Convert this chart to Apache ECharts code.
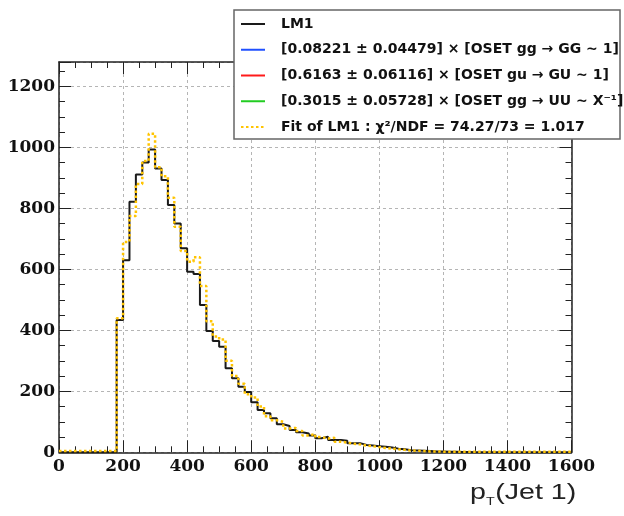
<!DOCTYPE html>
<html>
<head>
<meta charset="utf-8">
<script src="https://cdn.jsdelivr.net/npm/echarts@6/dist/echarts.min.js"></script>
<style>
html,body{margin:0;padding:0;background:#fff;}
#chart{width:624px;height:516px;}
</style>
</head>
<body>
<div id="chart"></div>
<script>
// Histogram binning (lower edge of first bin, bin width)
const binLow = 0;
const binWidth = 20;

// LM1 histogram contents (80 bins, 0..1600)
const lm1 = [
  0,0,0,0,0,0,0,0,0,
  434,630,822,911,950,993,931,893,811,750,
  669,592,585,483,398,365,346,276,243,215,
  198,164,139,128,112,92,86,73,66,62,
  55,46,51,40,40,38,30,30,24,22,
  20,18,16,12,10,7,6,5,4,3,
  3,2,2,1,1,
  0,0,0,0,0,0,0,0,0,0,0,0,0,0,0,0
];

// Fit of LM1 histogram contents (80 bins)
const fitLM1 = [
  4,4,4,4,4,4,4,4,4,
  440,690,775,880,955,1045,935,905,835,740,
  660,625,640,545,430,380,370,300,250,225,
  190,180,150,118,105,100,78,80,70,55,
  60,50,45,48,35,32,28,26,22,20,
  17,14,12,10,8,6,5,4,3,3,
  2,2,2,2,2,
  2,2,2,2,2,2,2,2,2,2,2,2,2,2,2,2
];

// Legend entries
const legendNames = [
  'LM1',
  '[0.08221 \u00b1 0.04479] \u00d7 [OSET gg \u2192 GG ~ 1]',
  '[0.6163 \u00b1 0.06116] \u00d7 [OSET gu \u2192 GU ~ 1]',
  '[0.3015 \u00b1 0.05728] \u00d7 [OSET gg \u2192 UU ~ X\u207b\u00b9]',
  'Fit of LM1 : \u03c7\u00b2/NDF = 74.27/73 = 1.017'
];
const legendColors = ['#1a1a1a', '#2050ff', '#ff1a1a', '#22cc22', '#ffc400'];

// Axis ranges / ticks
const xMin = 0, xMax = 1600, xStep = 200;
const yMin = 0, yMax = 1280, yStep = 200;

function toSteps(values) {
  const pts = values.map((v, i) => [binLow + i * binWidth, v]);
  pts.push([binLow + values.length * binWidth, values[values.length - 1]]);
  return pts;
}

const chart = echarts.init(document.getElementById('chart'), null, {renderer: 'canvas'});

const labelFont = {fontFamily: 'DejaVu Serif', fontWeight: 'bold', fontSize: 17, color: '#111',
                   formatter: v => String(v)};
const axisLineStyle = {color: '#222', width: 1.5};
const gridLine = {show: true, lineStyle: {color: '#b5b5b5', type: [3, 3], width: 1}};

function xAxisCfg(pos, labels) {
  return {
    type: 'value', position: pos, min: xMin, max: xMax, interval: xStep,
    axisLine: {show: true, onZero: false, lineStyle: axisLineStyle},
    axisTick: {show: true, inside: true, length: 12, lineStyle: {color: '#222', width: 1}},
    minorTick: {show: true, splitNumber: 4, length: 6, lineStyle: {color: '#222', width: 1}},
    axisLabel: Object.assign({show: labels, margin: 6}, labelFont),
    splitLine: labels ? gridLine : {show: false}
  };
}
function yAxisCfg(pos, labels) {
  return {
    type: 'value', position: pos, min: yMin, max: yMax, interval: yStep,
    axisLine: {show: true, onZero: false, lineStyle: axisLineStyle},
    axisTick: {show: true, inside: true, length: 12, lineStyle: {color: '#222', width: 1}},
    minorTick: {show: true, splitNumber: 4, length: 6, lineStyle: {color: '#222', width: 1}},
    axisLabel: Object.assign({show: labels, margin: 4, showMaxLabel: false}, labelFont),
    splitLine: labels ? gridLine : {show: false}
  };
}

const series = [
  {name: legendNames[0], type: 'line', step: 'end', symbol: 'none', data: toSteps(lm1),
   lineStyle: {color: legendColors[0], width: 2}, itemStyle: {color: legendColors[0]}, z: 3},
  {name: legendNames[1], type: 'line', symbol: 'none', data: [],
   lineStyle: {color: legendColors[1], width: 2}, itemStyle: {color: legendColors[1]}},
  {name: legendNames[2], type: 'line', symbol: 'none', data: [],
   lineStyle: {color: legendColors[2], width: 2}, itemStyle: {color: legendColors[2]}},
  {name: legendNames[3], type: 'line', symbol: 'none', data: [],
   lineStyle: {color: legendColors[3], width: 2}, itemStyle: {color: legendColors[3]}},
  {name: legendNames[4], type: 'line', step: 'end', symbol: 'none', data: toSteps(fitLM1),
   lineStyle: {color: legendColors[4], width: 2.5, type: [2.5, 2.5]}, itemStyle: {color: legendColors[4]}, z: 4}
];

const titleFont = {fontFamily: 'Liberation Sans', fontSize: 22, fill: '#222', verticalAlign: 'middle'};

chart.setOption({
  animation: false,
  backgroundColor: '#ffffff',
  grid: {left: 59, right: 52.5, top: 62, bottom: 63.7, containLabel: false},
  xAxis: [xAxisCfg('bottom', true), xAxisCfg('top', false)],
  yAxis: [yAxisCfg('left', true), yAxisCfg('right', false)],
  legend: {
    data: legendNames, orient: 'vertical', left: 240, top: 16, padding: 0,
    itemWidth: 24, itemHeight: 14, itemGap: 9.75, selectedMode: false, z: 101,
    itemStyle: {opacity: 0, color: 'transparent', borderWidth: 0},
    textStyle: {fontFamily: 'DejaVu Sans', fontWeight: 'bold', fontSize: 14, color: '#111',
                lineHeight: 16, padding: [0, 0, 0, 11]}
  },
  graphic: [
    {type: 'rect', z: 100, shape: {x: 234, y: 10, width: 386, height: 129},
     style: {fill: '#fff', stroke: '#666', lineWidth: 1.5}},
    {type: 'group', x: 470, y: 493, scaleX: 1.3, z: 100, children: [
      {type: 'text', x: 0, y: 0, style: Object.assign({text: 'p'}, titleFont)},
      {type: 'text', x: 12.4, y: 8.7, style: {text: 'T', fontFamily: 'Liberation Sans', fontSize: 11, fill: '#222', verticalAlign: 'middle'}},
      {type: 'text', x: 19.4, y: 0, style: Object.assign({text: '(Jet 1)'}, titleFont)}
    ]}
  ],
  series: series
});
</script>
</body>
</html>
